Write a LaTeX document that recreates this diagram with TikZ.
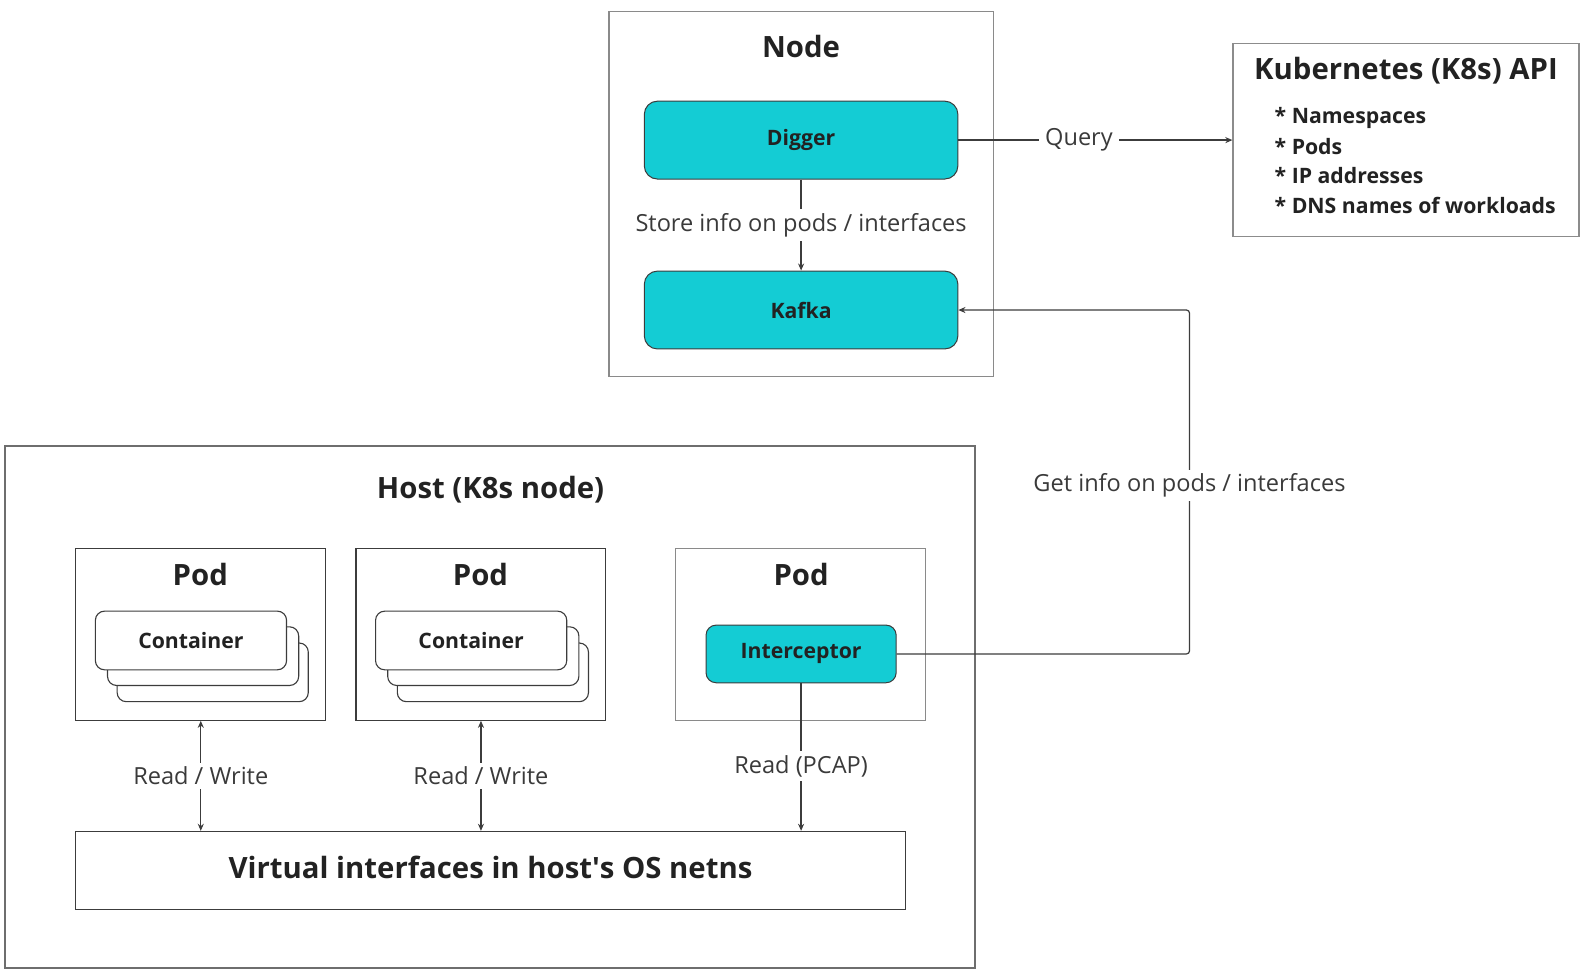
\documentclass[tikz,border=0pt]{standalone}
\usepackage{fontspec}
\setmainfont{Open Sans}
\usetikzlibrary{arrows.meta,positioning}
\definecolor{tealfill}{HTML}{14CCD4}
\definecolor{inkdark}{HTML}{222222}
\definecolor{labelgray}{HTML}{3A3A3A}
\definecolor{edgegray}{HTML}{8A8A8A}
\definecolor{edgedark}{HTML}{3C3C3C}
\begin{document}
\begin{tikzpicture}[x=1pt,y=-1pt,
  every node/.style={inner sep=0pt,text=inkdark},
  frame/.style={draw=#1,line width=1.2pt,rectangle},
  tealbox/.style={draw=edgedark,fill=tealfill,line width=1pt,rounded corners=13},
  ctrbox/.style={draw=edgedark,fill=white,line width=1.1pt,rounded corners=9,minimum width=189,minimum height=58},
  title/.style={font=\fontsize{29}{35}\selectfont\bfseries},
  boxtext/.style={font=\fontsize{21}{25}\selectfont\bfseries},
  lbl/.style={font=\fontsize{23.3}{28}\selectfont,fill=white,inner xsep=6,inner ysep=4,text=labelgray},
  link/.style={draw=edgedark,line width=1.2pt,-{Stealth[length=7pt,width=6pt]}}]
\useasboundingbox (0,0) rectangle (1568,962);
\node[frame=edgegray,minimum width=380,minimum height=361] (nodebox) at (792,191.5) {};
\node[title] (nodetitle) at (792,46) {Node};
\node[tealbox,minimum width=310,minimum height=77,boxtext] (digger) at (792,138.5) {Digger};
\node[tealbox,minimum width=310,minimum height=77,boxtext] (kafka) at (792,306.5) {Kafka};
\node[frame=gray!90,minimum width=342,minimum height=191] (apibox) at (1390,138.5) {};
\node[title] (apititle) at (1390,70) {Kubernetes (K8s) API};
\node[boxtext,anchor=west] (item1) at (1260,117) {* Namespaces};
\node[boxtext,anchor=west] (item2) at (1260,145) {* Pods};
\node[boxtext,anchor=west] (item3) at (1260,174) {* IP addresses};
\node[boxtext,anchor=west] (item4) at (1260,203) {* DNS names of workloads};
\node[frame=edgegray!80!black,minimum width=959,minimum height=516] (hostbox) at (484.5,699) {};
\node[title] (hosttitle) at (485,484) {Host (K8s node)};
\node[frame=edgedark,minimum width=247,minimum height=170] (pod1) at (198.5,627) {};
\node[frame=edgedark,minimum width=247,minimum height=170] (pod2) at (475.5,627) {};
\node[frame=edgegray,minimum width=247,minimum height=170] (pod3) at (791.5,627) {};
\node[title] (pod1title) at (198,568) {Pod};
\node[title] (pod2title) at (475,568) {Pod};
\node[title] (pod3title) at (792,568) {Pod};
\node[ctrbox] (ctr1c) at (210.3,664.7) {};
\node[ctrbox] (ctr1b) at (200.8,648.7) {};
\node[ctrbox,boxtext] (ctr1a) at (188.8,633.2) {Container};
\node[ctrbox] (ctr2c) at (487.3,664.7) {};
\node[ctrbox] (ctr2b) at (477.8,648.7) {};
\node[ctrbox,boxtext] (ctr2a) at (465.8,633.2) {Container};
\node[tealbox,rounded corners=10,minimum width=188,minimum height=57,boxtext] (interceptor) at (792,646.5) {Interceptor};
\node[frame=edgedark,minimum width=820,minimum height=77] (vibox) at (485,860.5) {};
\node[title] (vititle) at (485,858) {Virtual interfaces in host\textquotesingle s OS netns};
\coordinate (bend) at (1176,480);
\draw[link] (digger) -- node[lbl] (storelbl) {Store info on pods / interfaces} (kafka);
\draw[link] (digger.east) -- node[lbl,pos=0.44] (querylbl) {Query} (apibox.west);
\draw[link,rounded corners=3] (interceptor.east) -| (bend) |- (kafka.east);
\node[lbl] (getlbl) at (bend) {Get info on pods / interfaces};
\draw[link,{Stealth[length=7pt,width=6pt]}-{Stealth[length=7pt,width=6pt]}] (pod1.south) -- node[lbl] (rw1lbl) {Read / Write} (pod1.south |- vibox.north);
\draw[link,{Stealth[length=7pt,width=6pt]}-{Stealth[length=7pt,width=6pt]}] (pod2.south) -- node[lbl] (rw2lbl) {Read / Write} (pod2.south |- vibox.north);
\draw[link] (interceptor.south) -- node[lbl,pos=0.56] (pcaplbl) {Read (PCAP)} (interceptor.south |- vibox.north);
\end{tikzpicture}
\end{document}
